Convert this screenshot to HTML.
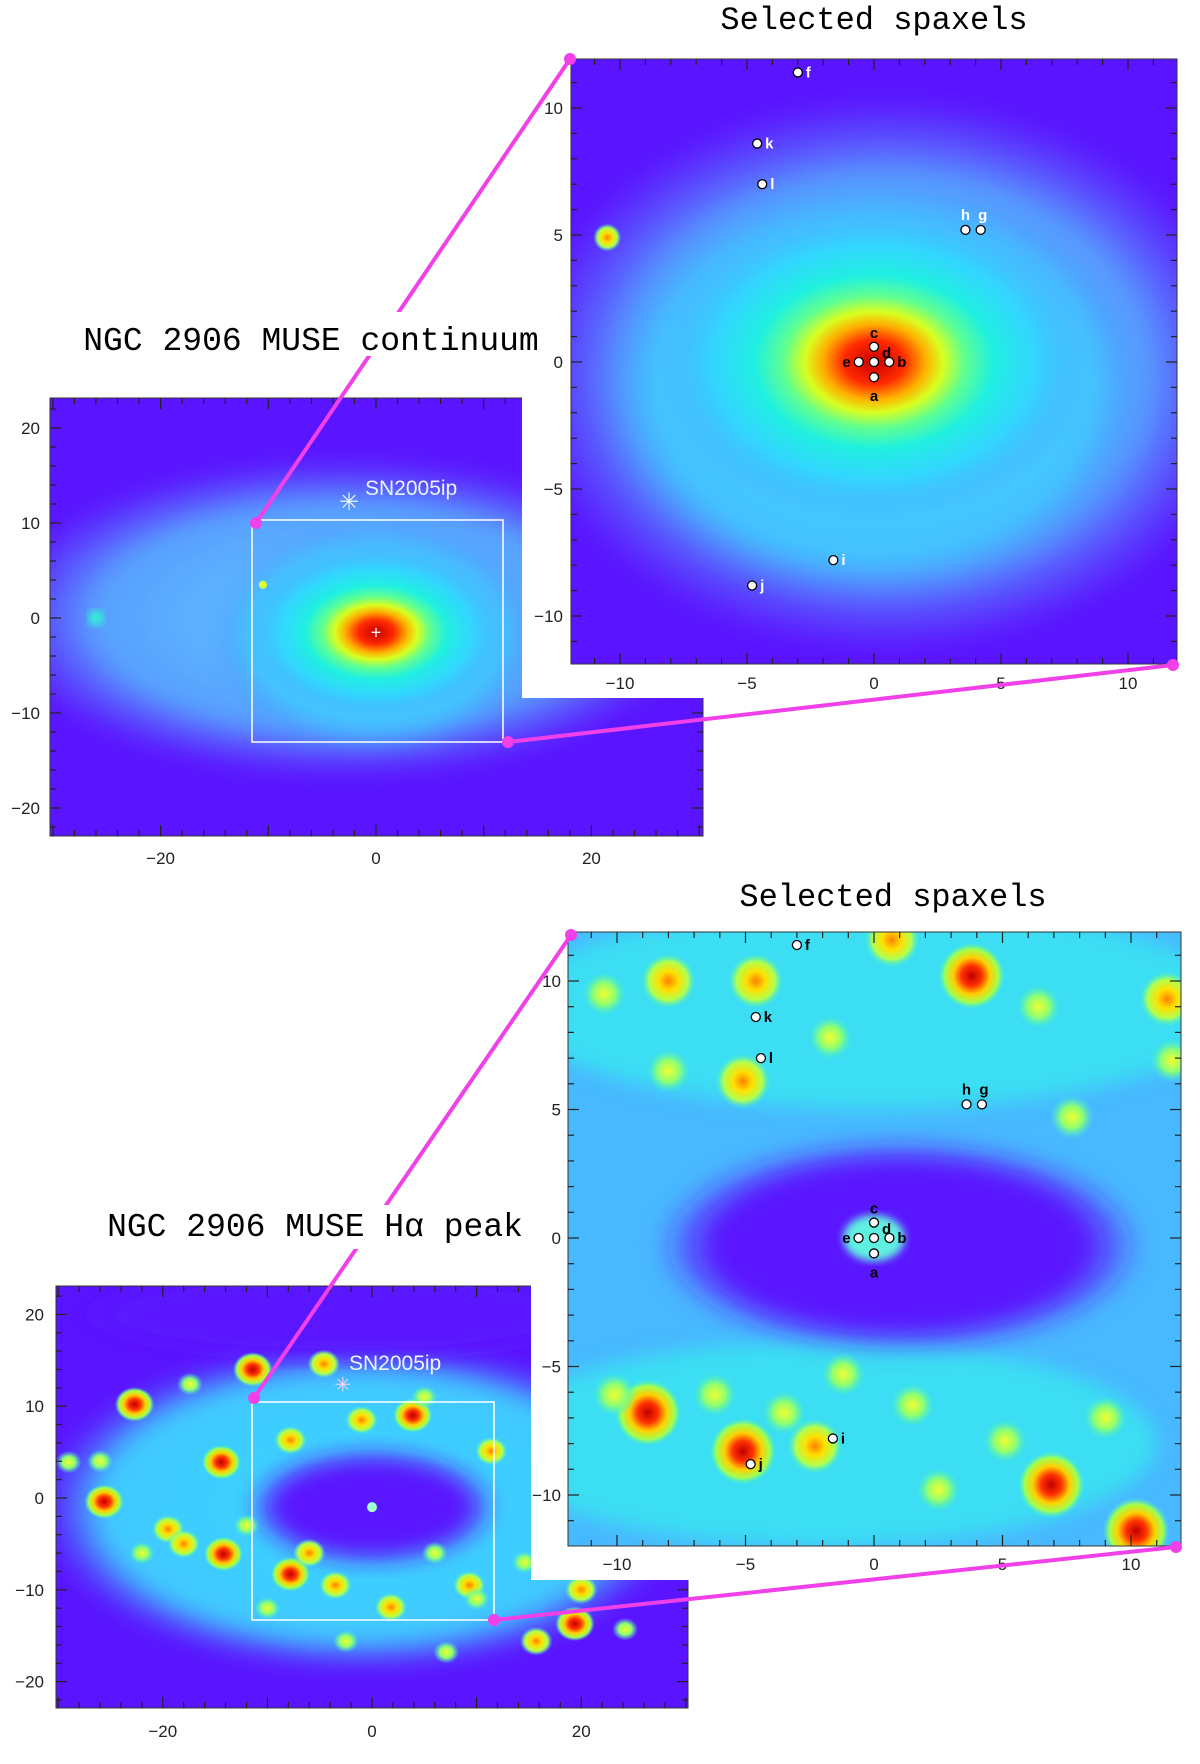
<!DOCTYPE html>
<html><head><meta charset="utf-8"><title>NGC 2906 MUSE</title>
<style>html,body{margin:0;padding:0;background:#fff;}svg{display:block;}</style></head>
<body>
<svg id="fig" width="1200" height="1764" viewBox="0 0 1200 1764" xmlns="http://www.w3.org/2000/svg">
<defs>
<radialGradient id="gCore">
<stop offset="0" stop-color="#c80000"/><stop offset="0.14" stop-color="#ff2a00"/><stop offset="0.24" stop-color="#ffb000"/>
<stop offset="0.32" stop-color="#d8ff20"/><stop offset="0.42" stop-color="#60ff90"/><stop offset="0.55" stop-color="#20f0e0"/>
<stop offset="0.75" stop-color="#30d8ff" stop-opacity="0.85"/><stop offset="1" stop-color="#4aa0ff" stop-opacity="0"/></radialGradient>
<radialGradient id="gHalo"><stop offset="0" stop-color="#60c8ff"/><stop offset="0.7" stop-color="#58a0ff"/><stop offset="1" stop-color="#5a70ff" stop-opacity="0"/></radialGradient>
<radialGradient id="gB1"><stop offset="0" stop-color="#f0ff30"/><stop offset="0.5" stop-color="#90ff70"/><stop offset="1" stop-color="#40f0d0" stop-opacity="0"/></radialGradient>
<radialGradient id="gB2"><stop offset="0" stop-color="#ff8000"/><stop offset="0.35" stop-color="#ffe000"/><stop offset="0.7" stop-color="#b0ff50"/><stop offset="1" stop-color="#40f0d0" stop-opacity="0"/></radialGradient>
<radialGradient id="gB3"><stop offset="0" stop-color="#c00000"/><stop offset="0.3" stop-color="#ff3000"/><stop offset="0.55" stop-color="#ffd000"/><stop offset="0.8" stop-color="#a0ff50"/><stop offset="1" stop-color="#40f0d0" stop-opacity="0"/></radialGradient>
<radialGradient id="gPurple"><stop offset="0" stop-color="#5a18ff"/><stop offset="0.75" stop-color="#5a18ff"/><stop offset="1" stop-color="#5a18ff" stop-opacity="0"/></radialGradient>
<radialGradient id="gCyanRing"><stop offset="0" stop-color="#3ad8ff"/><stop offset="0.8" stop-color="#40c8ff"/><stop offset="1" stop-color="#4a70ff" stop-opacity="0"/></radialGradient>
<filter id="blur4"><feGaussianBlur stdDeviation="4"/></filter>
<filter id="blur10"><feGaussianBlur stdDeviation="10"/></filter>
<clipPath id="clipC"><rect x="50" y="398" width="653" height="438"/></clipPath>
<clipPath id="clipZ1"><rect x="571" y="59" width="606" height="605"/></clipPath>
<clipPath id="clipH"><rect x="56" y="1286" width="632" height="422"/></clipPath>
<clipPath id="clipZ2"><rect x="568" y="932" width="613" height="614"/></clipPath>
</defs>
<g id="layer-images"></g>
<g id="layer-top"></g>
</svg>
<script>
// ---- data ----
const spaxelNames = ['a','b','c','d','e','f','g','h','i','j','k','l'];
const spaxelX = [0, 0.6, 0, 0, -0.6, -3.0, 4.2, 3.6, -1.6, -4.8, -4.6, -4.4];
const spaxelY = [-0.6, 0, 0.6, 0, 0, 11.4, 5.2, 5.2, -7.8, -8.8, 8.6, 7.0];
const zoomTicks = [-10, -5, 0, 5, 10];
const wideXTicks = [-20, 0, 20];
const wideYTicks = [20, 10, 0, -10, -20];
const haZoomBlobX = [3.8,-4.6,-8,0.7,-5.1,11.4,6.4,-1.7,7.7,-8.8,-6.2,-5.1,-2.3,-1.2,6.9,10.2,2.5,5.1,9,-10.1,11.6,-8,-10.5,1.5,-3.5];
const haZoomBlobY = [10.2,10,10,11.6,6.1,9.3,9,7.8,4.7,-6.8,-6.1,-8.3,-8.1,-5.3,-9.6,-11.4,-9.8,-7.9,-7,-6.1,6.9,6.5,9.5,-6.5,-6.8];
const haZoomBlobL = [3,2,2,2,2,2,1,1,1,3,1,3,2,1,3,3,1,1,1,1,1,1,1,1,1];
const haWideBlobX = [-25.6,-22.7,-14.4,-11.4,3.9,-4.6,-14.2,-19.5,-7.8,-3.5,19.4,15.7,9.3,11.4,-7.8,1.8,-2.5,7.1,-17.4,-29,14.6,24.2,-1,6,-10,17,-22,-18,-6,10,20,-26,5,-12];
const haWideBlobY = [-0.4,10.2,3.9,14,9,14.6,-6.1,-3.4,-8.3,-9.5,-13.7,-15.6,-9.5,5.1,6.3,-11.9,-15.6,-16.8,12.4,3.9,-7,-14.3,8.5,-6,-12,0,-6,-5,-6,-11,-10,4,11,-3];
const haWideBlobL = [3,3,3,3,3,2,3,2,3,2,3,2,2,2,2,2,1,1,1,1,1,1,2,1,1,1,1,2,2,1,2,1,1,1];

const NS='http://www.w3.org/2000/svg';
const L1=document.getElementById('layer-images'), L2=document.getElementById('layer-top');
function mk(parent,tag,attrs,text){const e=document.createElementNS(NS,tag);for(const k in attrs)e.setAttribute(k,attrs[k]);if(text!==undefined)e.textContent=text;parent.appendChild(e);return e;}

function axes(cx,cy,sx,sy){return {x:v=>cx+v*sx,y:v=>cy-v*sy,sx:sx,sy:sy};}
const AC=axes(376,618,10.77,9.5), AZ1=axes(874,362,25.4,25.4), AH=axes(372,1498,10.46,9.18), AZ2=axes(874,1238,25.7,25.7);

function blobs(g,A,xs,ys,ls,ru){
  for(let i=0;i<xs.length;i++){
    const c=mk(g,'ellipse',{cx:A.x(xs[i]),cy:A.y(ys[i]),rx:ru*A.sx*(0.7+0.25*ls[i]),ry:ru*A.sy*(0.7+0.25*ls[i]),fill:'url(#gB'+ls[i]+')'});
    
    
  }
}
function frameTicks(g,x0,y0,w,h,A,major,minor,lo,hi){
  mk(g,'rect',{x:x0,y:y0,width:w,height:h,fill:'none',stroke:'#333','stroke-width':1});
  for(let v=lo;v<=hi;v+=minor){
    const len=(v%major===0)?11:6;const px=A.x(v),py=A.y(v);
    if(px>x0&&px<x0+w){mk(g,'line',{x1:px,y1:y0+h,x2:px,y2:y0+h-len,stroke:'#222','stroke-width':1.2});mk(g,'line',{x1:px,y1:y0,x2:px,y2:y0+len,stroke:'#222','stroke-width':1.2});}
    if(py>y0&&py<y0+h){mk(g,'line',{x1:x0,y1:py,x2:x0+len,y2:py,stroke:'#222','stroke-width':1.2});mk(g,'line',{x1:x0+w,y1:py,x2:x0+w-len,y2:py,stroke:'#222','stroke-width':1.2});}
  }
}
function tickLabels(g,A,xt,yt,xy,yx){
  xt.forEach(v=>{const t=mk(g,'text',{x:A.x(v),y:xy,'text-anchor':'middle','font-size':17,'font-family':'Liberation Sans, sans-serif',fill:'#222'},String(v).replace('-','\u2212'));
    });
  yt.forEach(v=>{const t=mk(g,'text',{x:yx,y:A.y(v)+6,'text-anchor':'end','font-size':17,'font-family':'Liberation Sans, sans-serif',fill:'#222'},String(v).replace('-','\u2212'));
    });
}
function markers(g,A,white){
  for(let i=0;i<spaxelNames.length;i++){
    const px=A.x(spaxelX[i]),py=A.y(spaxelY[i]);
    const c=mk(g,'circle',{cx:px,cy:py,r:4.5,fill:'#fff',stroke:'#000','stroke-width':1.3});
    
    
    const n=spaxelNames[i];let dx=8,dy=5,anchor='start';
    if(n==='a'){dx=0;dy=24;anchor='middle';} if(n==='c'){dx=0;dy=-9;anchor='middle';}
    if(n==='d'){dx=8;dy=-4;} if(n==='e'){dx=-8;anchor='end';}
    if(n==='h'){dx=0;dy=-10;anchor='middle';} if(n==='g'){dx=2;dy=-10;anchor='middle';}
    const inner='abcde'.includes(n);
    const t=mk(g,'text',{x:px+dx,y:py+dy,'text-anchor':anchor,'font-size':15,'font-weight':'bold','font-family':'Liberation Sans, sans-serif',fill:(inner||!white)?'#000':'#fff'},n);
    
  }
}

// ---------- Continuum wide image ----------
let g=mk(L1,'g',{'clip-path':'url(#clipC)'});
mk(g,'rect',{x:50,y:398,width:653,height:438,fill:'#5a14ff'});
mk(g,'ellipse',{cx:AC.x(-3),cy:AC.y(0),rx:33*AC.sx,ry:17*AC.sy,fill:'url(#gHalo)',filter:'url(#blur10)'});
mk(g,'ellipse',{cx:AC.x(0),cy:AC.y(-2),rx:15*AC.sx,ry:12*AC.sy,fill:'url(#gCyanRing)',filter:'url(#blur10)',opacity:0.9});
mk(g,'ellipse',{cx:AC.x(0),cy:AC.y(-1.5),rx:12*AC.sx,ry:9*AC.sy,fill:'url(#gCore)'});
mk(g,'circle',{cx:AC.x(-26),cy:AC.y(0),r:8,fill:'#30f0d0',filter:'url(#blur4)'});
mk(g,'circle',{cx:AC.x(-10.5),cy:AC.y(3.5),r:4,fill:'#e0ff30'});
mk(g,'text',{x:AC.x(0),y:AC.y(-1.5)+6,'text-anchor':'middle',fill:'#fff','font-size':18,'font-family':'Liberation Sans, sans-serif'},'+');
g=mk(L1,'g',{});frameTicks(g,50,398,653,438,AC,10,2,-30,30);
tickLabels(g,AC,wideXTicks,wideYTicks,864,40);
let sn=mk(g,'text',{x:AC.x(-2.5),y:AC.y(12.3)+9,'text-anchor':'middle',fill:'#e8f4ff','font-size':24,'font-family':'Liberation Sans, sans-serif'},'\u2733');
let snl=mk(g,'text',{x:365,y:495,fill:'#e8f4ff','font-size':21,'font-family':'Liberation Sans, sans-serif'},'SN2005ip');
let bx=mk(g,'rect',{x:252,y:520,width:251,height:222,fill:'none',stroke:'#fff','stroke-width':1.5});

// ---------- Hα wide image ----------
g=mk(L1,'g',{'clip-path':'url(#clipH)'});
mk(g,'rect',{x:56,y:1286,width:632,height:422,fill:'#5a14ff'});
mk(g,'ellipse',{cx:AH.x(-1),cy:AH.y(-1),rx:31*AH.sx,ry:18*AH.sy,fill:'url(#gCyanRing)',filter:'url(#blur10)'});
mk(g,'ellipse',{cx:AH.x(0),cy:AH.y(-1),rx:12*AH.sx,ry:6.5*AH.sy,fill:'url(#gPurple)',filter:'url(#blur10)'});
mk(g,'ellipse',{cx:AH.x(-3),cy:AH.y(20),rx:26*AH.sx,ry:5*AH.sy,fill:'url(#gPurple)',filter:'url(#blur10)'});
blobs(g,AH,haWideBlobX,haWideBlobY,haWideBlobL,1.3);
mk(g,'circle',{cx:AH.x(0),cy:AH.y(-1),r:5,fill:'#a0ffd0'});
g=mk(L1,'g',{});frameTicks(g,56,1286,632,422,AH,10,2,-30,30);
tickLabels(g,AH,wideXTicks,wideYTicks,1737,44);
sn=mk(g,'text',{x:AH.x(-2.8),y:AH.y(12.5)+8,'text-anchor':'middle',fill:'#ffd0f0','font-size':20,'font-family':'Liberation Sans, sans-serif'},'\u2733');
snl=mk(g,'text',{x:349,y:1370,fill:'#f0f4ff','font-size':21,'font-family':'Liberation Sans, sans-serif'},'SN2005ip');
bx=mk(g,'rect',{x:252,y:1402,width:242,height:218,fill:'none',stroke:'#fff','stroke-width':1.5});

// ---------- white backgrounds of zoom panels ----------
mk(L1,'rect',{x:522,y:40,width:670,height:658,fill:'#fff'});
mk(L1,'rect',{x:531,y:915,width:665,height:665,fill:'#fff'});

// ---------- Continuum zoom ----------
g=mk(L1,'g',{'clip-path':'url(#clipZ1)'});
mk(g,'rect',{x:571,y:59,width:606,height:605,fill:'#5a14ff'});
mk(g,'ellipse',{cx:AZ1.x(0.5),cy:AZ1.y(-0.5),rx:14.5*AZ1.sx,ry:11*AZ1.sy,fill:'url(#gHalo)',filter:'url(#blur10)'});
mk(g,'ellipse',{cx:AZ1.x(0),cy:AZ1.y(-1),rx:11*AZ1.sx,ry:8.5*AZ1.sy,fill:'url(#gCyanRing)',filter:'url(#blur10)',opacity:0.85});
mk(g,'ellipse',{cx:AZ1.x(0),cy:AZ1.y(0),rx:8.5*AZ1.sx,ry:6.2*AZ1.sy,fill:'url(#gCore)'});
mk(g,'circle',{cx:AZ1.x(-10.5),cy:AZ1.y(4.9),r:14,fill:'url(#gB2)'});
g=mk(L1,'g',{});frameTicks(g,571,59,606,605,AZ1,5,1,-12,12);
tickLabels(g,AZ1,zoomTicks,zoomTicks,689,563);
markers(g,AZ1,true);
let tt=mk(g,'text',{x:874,y:29,'text-anchor':'middle','font-size':32,'font-family':'Liberation Mono, monospace',fill:'#000'},'Selected spaxels');

// ---------- Hα zoom ----------
g=mk(L1,'g',{'clip-path':'url(#clipZ2)'});
mk(g,'rect',{x:568,y:932,width:613,height:614,fill:'#48b8ff'});
mk(g,'ellipse',{cx:AZ2.x(0),cy:AZ2.y(9),rx:14*AZ2.sx,ry:4*AZ2.sy,fill:'#38e8f0',filter:'url(#blur10)',opacity:0.8});
mk(g,'ellipse',{cx:AZ2.x(-2),cy:AZ2.y(-8),rx:13*AZ2.sx,ry:4*AZ2.sy,fill:'#38e8f0',filter:'url(#blur10)',opacity:0.8});
mk(g,'ellipse',{cx:AZ2.x(1),cy:AZ2.y(-0.3),rx:9.5*AZ2.sx,ry:4.2*AZ2.sy,fill:'url(#gPurple)',filter:'url(#blur10)'});
mk(g,'ellipse',{cx:AZ2.x(0),cy:AZ2.y(0),rx:1.2*AZ2.sx,ry:0.9*AZ2.sy,fill:'#60f0e0',filter:'url(#blur4)'});
blobs(g,AZ2,haZoomBlobX,haZoomBlobY,haZoomBlobL,0.9);
g=mk(L1,'g',{});frameTicks(g,568,932,613,614,AZ2,5,1,-12,12);
tickLabels(g,AZ2,zoomTicks,zoomTicks,1570,561);
markers(g,AZ2,false);
tt=mk(g,'text',{x:893,y:906,'text-anchor':'middle','font-size':32,'font-family':'Liberation Mono, monospace',fill:'#000'},'Selected spaxels');

// ---------- connector lines ----------
function conn(x1,y1,x2,y2,name){
  const l=mk(L2,'line',{x1:x1,y1:y1,x2:x2,y2:y2,stroke:'#f040e8','stroke-width':4});
  
  mk(L2,'circle',{cx:x1,cy:y1,r:6,fill:'#f040e8'});mk(L2,'circle',{cx:x2,cy:y2,r:6,fill:'#f040e8'});
}
conn(256,523,570,59,'connector-top-left');
conn(508,742,1173,665,'connector-bottom-right');
conn(254,1398,571,935,'connector-ha-top-left');
conn(494,1620,1176,1547,'connector-ha-bottom-right');

// ---------- main titles ----------
mk(L2,'rect',{x:80,y:312,width:462,height:44,fill:'#fff'});
tt=mk(L2,'text',{x:311,y:350,'text-anchor':'middle','font-size':33,'font-family':'Liberation Mono, monospace',fill:'#000'},'NGC 2906 MUSE continuum');
mk(L2,'rect',{x:100,y:1205,width:430,height:44,fill:'#fff'});
tt=mk(L2,'text',{x:315,y:1236,'text-anchor':'middle','font-size':33,'font-family':'Liberation Mono, \"DejaVu Sans Mono\", monospace',fill:'#000'},'NGC 2906 MUSE H\u03b1 peak');
</script>
</body></html>
